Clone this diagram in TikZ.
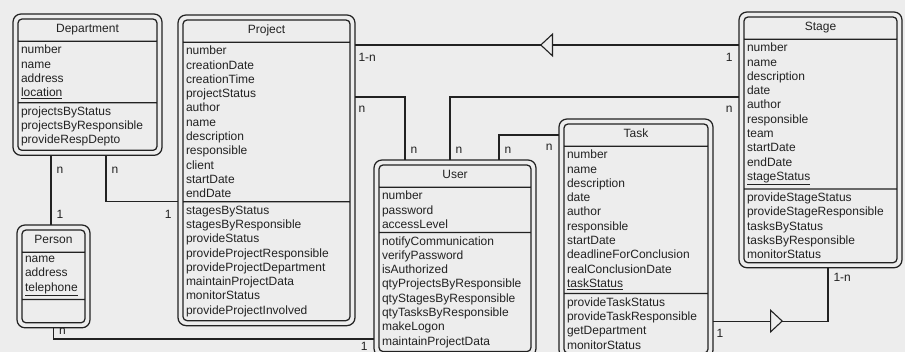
\documentclass[tikz,border=0pt]{standalone}
\usepackage{fontspec}
\setmainfont{Liberation Sans}
\usetikzlibrary{shapes.multipart,fit,positioning,arrows.meta,decorations.markings}
\definecolor{ink}{HTML}{222222}
\definecolor{paper}{HTML}{EDEDED}

\begin{document}
\begin{tikzpicture}[x=1pt,y=-1pt,
    class/.style={rectangle split,rectangle split parts=3,rectangle split draw splits,
      rectangle split part align={center,left,left},draw=ink,line width=1.25pt,
      rounded corners=4pt,anchor=north west,align=left,inner xsep=3pt,inner ysep=3.3pt,
      outer sep=0pt,text=ink,font=\fontsize{12}{14.3}\selectfont},
    frame/.style={draw=ink,line width=1.25pt,rounded corners=8pt,inner sep=5pt,outer sep=0pt},
    link/.style={draw=ink,line width=1.1pt},
    lbl/.style={font=\fontsize{12}{14.3}\selectfont,text=ink,inner sep=3pt},
    toward/.style={postaction={decorate,decoration={markings,
      mark=at position #1 with {\arrow{Triangle[length=13pt,width=24pt,fill=paper]}}}}},
    backward/.style={postaction={decorate,decoration={markings,
      mark=at position #1 with {\arrowreversed{Triangle[length=13pt,width=24pt,fill=paper]}}}}}]

  \path[use as bounding box,fill=paper] (0,0) rectangle (905,352);

  % classes
  \node[class,minimum width=139pt] (dept) at (18,19)
    {Department\strut
     \nodepart{two}number\\name\\address\\\underline{location}
     \nodepart{three}projectsByStatus\\projectsByResponsible\\provideRespDepto};
  \node[class,minimum width=167pt] (proj) at (183,20)
    {Project\strut
     \nodepart{two}number\\creationDate\\creationTime\\projectStatus\\author\\name\\description\\responsible\\client\\startDate\\endDate
     \nodepart{three}stagesByStatus\\stagesByResponsible\\provideStatus\\provideProjectResponsible\\provideProjectDepartment\\maintainProjectData\\monitorStatus\\provideProjectInvolved};
  \node[class,minimum width=152pt] (user) at (379,165)
    {User\strut
     \nodepart{two}number\\password\\accessLevel
     \nodepart{three}notifyCommunication\\verifyPassword\\isAuthorized\\qtyProjectsByResponsible\\qtyStagesByResponsible\\qtyTasksByResponsible\\makeLogon\\maintainProjectData};
  \node[class,minimum width=144pt] (task) at (564,124)
    {Task\strut
     \nodepart{two}number\\name\\description\\date\\author\\responsible\\startDate\\deadlineForConclusion\\realConclusionDate\\\underline{taskStatus}
     \nodepart{three}provideTaskStatus\\provideTaskResponsible\\getDepartment\\monitorStatus};
  \node[class,minimum width=153pt] (stage) at (744,17)
    {Stage\strut
     \nodepart{two}number\\name\\description\\date\\author\\responsible\\team\\startDate\\endDate\\\underline{stageStatus}
     \nodepart{three}provideStageStatus\\provideStageResponsible\\tasksByStatus\\tasksByResponsible\\monitorStatus};
  \node[class,minimum width=63pt,rectangle split empty part height=11pt,
        rectangle split empty part depth=4.4pt] (person) at (22,230)
    {Person\strut
     \nodepart{two}name\\address\\\underline{telephone}
     \nodepart{three}};

  % outer frames
  \node[frame,fit=(dept)] (deptF) {};
  \node[frame,fit=(proj)] (projF) {};
  \node[frame,fit=(user)] (userF) {};
  \node[frame,fit=(task)] (taskF) {};
  \node[frame,fit=(stage)] (stageF) {};
  \node[frame,fit=(person)] (personF) {};

  % associations
  \draw[link] ([xshift=-36.5pt]deptF.south) coordinate (dp) -- (dp |- personF.north)
    node[lbl,pos=0,below right=8pt and 2pt] {n}
    node[lbl,pos=1,above right=3pt and 2pt] {1};
  \draw[link] ([xshift=18.5pt]deptF.south) |- ([yshift=-31.5pt]projF.west)
    node[lbl,pos=0,below right=8pt and 2pt] {n}
    node[lbl,pos=1,below left=5pt and 3pt] {1};
  \draw[link,backward=185pt] ([yshift=-30pt]projF.north east) coordinate (ps) -- (ps -| stageF.west)
    node[lbl,pos=0,below right=5pt and 0pt] {1-n}
    node[lbl,pos=1,below left=5pt and 3pt] {1};
  \draw[link] ([yshift=-82pt]projF.north east) -| ([xshift=-50pt]userF.north)
    node[lbl,pos=0,below right=5pt and 0pt] {n}
    node[lbl,pos=1,above right=3pt and 2pt] {n};
  \draw[link] ([xshift=-5pt]userF.north) |- ([yshift=-85pt]stageF.north west)
    node[lbl,pos=0,above right=3pt and 2pt] {n}
    node[lbl,pos=1,below left=5pt and 3pt] {n};
  \draw[link] ([xshift=44pt]userF.north) |- ([yshift=-16pt]taskF.north west)
    node[lbl,pos=0,above right=3pt and 2pt] {n}
    node[lbl,pos=1,below left=5pt and 3pt] {n};
  \draw[link,toward=70pt] ([yshift=37pt]taskF.south east) -| ([xshift=7.5pt]stageF.south)
    node[lbl,pos=0,below right=5pt and 0pt] {1}
    node[lbl,pos=1,below right=2pt and 2pt] {1-n};
  \draw[link] (personF.south) |- ([yshift=17.5pt]userF.south west)
    node[lbl,pos=0.5,above right=1pt and 2pt] {n}
    node[lbl,pos=1,inner sep=1pt,below left=2pt and 5pt] {1};

\end{tikzpicture}
\end{document}
